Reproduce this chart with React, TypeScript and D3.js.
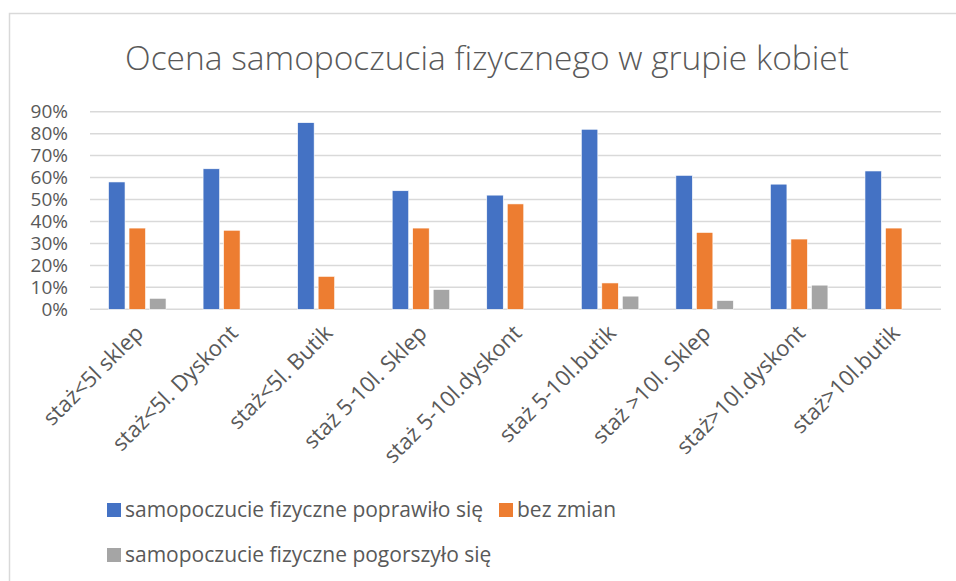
import { useEffect, useRef } from "react";
import * as d3 from "d3";

const categories = [
  "staż<5l sklep",
  "staż<5l. Dyskont",
  "staż<5l. Butik",
  "staż 5-10l. Sklep",
  "staż 5-10l.dyskont",
  "staż 5-10l.butik",
  "staż >10l. Sklep",
  "staż>10l.dyskont",
  "staż>10l.butik",
];

const seriesNames = [
  "samopoczucie fizyczne poprawiło się",
  "bez zmian",
  "samopoczucie fizyczne pogorszyło się",
];

const improved = [58, 64, 85, 54, 52, 82, 61, 57, 63];
const noChange = [37, 36, 15, 37, 48, 12, 35, 32, 37];
const worse = [5, 0, 0, 9, 0, 6, 4, 11, 0];

const yTicks = [0, 10, 20, 30, 40, 50, 60, 70, 80, 90];
const colors = ["#4472C4", "#ED7D31", "#A5A5A5"];

export default function App() {
  const ref = useRef<SVGSVGElement>(null);

  useEffect(() => {
    if (!ref.current) return;
    const svg = d3.select(ref.current);
    svg.selectAll("*").remove();

    const width = 956;
    const height = 581;
    const font = "'Open Sans', 'Noto Sans', sans-serif";
    const textColor = "#595959";

    // chart frame
    svg.append("rect")
      .attr("x", 9.5).attr("y", 13.5)
      .attr("width", width + 20).attr("height", height + 20)
      .attr("fill", "#fff")
      .attr("stroke", "#d9d9d9")
      .attr("stroke-width", 1.5);

    // title
    svg.append("text")
      .attr("x", 487).attr("y", 70)
      .attr("text-anchor", "middle")
      .attr("font-family", font)
      .attr("font-weight", 300)
      .attr("font-size", 33.5)
      .attr("fill", textColor)
      .text("Ocena samopoczucia fizycznego w grupie kobiet");

    const plotLeft = 90;
    const plotRight = 941;

    const y = d3.scaleLinear().domain([0, 90]).range([309.3, 111.7]);

    const x0 = d3.scaleBand<string>()
      .domain(categories)
      .range([plotLeft, plotRight])
      .paddingInner(0)
      .paddingOuter(0);

    const groupWidth = 57.5;
    const x1 = d3.scaleBand<number>()
      .domain([0, 1, 2])
      .range([0, groupWidth])
      .paddingInner(0.195);

    // gridlines
    svg.append("g")
      .selectAll("line")
      .data(yTicks)
      .join("line")
      .attr("x1", plotLeft).attr("x2", plotRight)
      .attr("y1", d => y(d)).attr("y2", d => y(d))
      .attr("stroke", "#d9d9d9")
      .attr("stroke-width", 1.5);

    // y tick labels
    svg.append("g")
      .selectAll("text")
      .data(yTicks)
      .join("text")
      .attr("x", 68)
      .attr("y", d => y(d))
      .attr("dy", "0.35em")
      .attr("text-anchor", "end")
      .attr("font-family", font)
      .attr("font-size", 19)
      .attr("fill", textColor)
      .text(d => `${d}%`);

    // bars
    const series = [improved, noChange, worse];
    const offset = (x0.bandwidth() - groupWidth) / 2;
    series.forEach((vals, si) => {
      svg.append("g")
        .selectAll("rect")
        .data(vals.map((v, i) => ({ v, c: categories[i] })).filter(d => d.v > 0))
        .join("rect")
        .attr("x", d => (x0(d.c) || 0) + offset + (x1(si) || 0))
        .attr("y", d => y(d.v))
        .attr("width", x1.bandwidth())
        .attr("height", d => y(0) - y(d.v))
        .attr("fill", colors[si])
        .attr("stroke", "#fff")
        .attr("stroke-width", 0.6);
    });

    // category labels
    svg.append("g")
      .selectAll("text")
      .data(categories)
      .join("text")
      .attr("transform", d => `translate(${(x0(d) || 0) + x0.bandwidth() / 2 + 2},${329}) rotate(-45)`)
      .attr("text-anchor", "end")
      .attr("dy", "0.35em")
      .attr("font-family", font)
      .attr("font-size", 22)
      .attr("fill", textColor)
      .text(d => d);

    // legend
    const legendItems = [
      { name: seriesNames[0], color: colors[0], x: 107, y: 510 },
      { name: seriesNames[1], color: colors[1], x: 499, y: 510 },
      { name: seriesNames[2], color: colors[2], x: 107, y: 555 },
    ];
    const lg = svg.append("g")
      .selectAll("g")
      .data(legendItems)
      .join("g")
      .attr("transform", d => `translate(${d.x},${d.y})`);
    lg.append("rect")
      .attr("x", 0).attr("y", -7)
      .attr("width", 14).attr("height", 14)
      .attr("fill", d => d.color);
    lg.append("text")
      .attr("x", 18).attr("y", 0)
      .attr("dy", "0.35em")
      .attr("font-family", font)
      .attr("font-size", 21)
      .attr("fill", textColor)
      .text(d => d.name);
  }, []);

  return (
    <svg
      ref={ref}
      width={956}
      height={581}
      style={{ position: "absolute", left: 0, top: 0, background: "#fff" }}
    />
  );
}
